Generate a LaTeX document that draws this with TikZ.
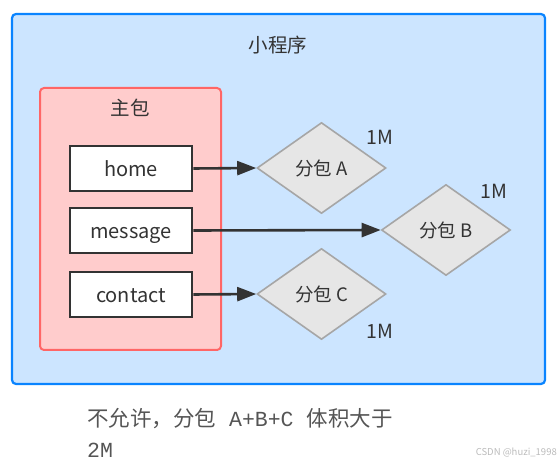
\documentclass[tikz,border=0pt]{standalone}
\usepackage{fontspec}
\setmainfont{Noto Sans CJK SC}
\newfontfamily\monofnt{Liberation Mono}
\newfontfamily\cjkfnt{Noto Sans CJK SC}
\usetikzlibrary{shapes.geometric,arrows.meta}
\definecolor{outerline}{HTML}{0A84FF}
\definecolor{outerfill}{HTML}{CCE5FF}
\definecolor{redline}{HTML}{FF6666}
\definecolor{redfill}{HTML}{FFCCCC}
\definecolor{darkline}{HTML}{333333}
\definecolor{diafill}{HTML}{E6E6E6}
\definecolor{dialine}{HTML}{A6A6A6}
\definecolor{txt}{HTML}{333333}
\definecolor{notetxt}{HTML}{555555}
\definecolor{wm}{HTML}{BBBBBB}
\tikzset{
  container/.style={draw=outerline, fill=outerfill, line width=2.2pt, rounded corners=4pt, inner sep=0pt},
  mainpkg/.style={draw=redline, fill=redfill, line width=2pt, rounded corners=4pt, inner sep=0pt},
  pagebox/.style={draw=darkline, fill=white, line width=2.8pt, minimum width=122pt, minimum height=45pt, inner sep=0pt, text height=16.5pt, text depth=1pt, text=txt, font=\fontsize{20}{22}\selectfont},
  subpkg/.style={diamond, draw=dialine, fill=diafill, line width=1.6pt, aspect=1.42, minimum width=129pt, minimum height=91pt, inner sep=0pt, text=txt, font=\fontsize{18.5}{22}\selectfont},
  lbl/.style={text=txt, font=\fontsize{19.5}{22}\selectfont, inner sep=0pt},
  conn/.style={draw=darkline, line width=2.6pt, -{Triangle[length=19pt,width=14pt]}}
}
\begin{document}
\begin{tikzpicture}[x=1pt,y=-1pt]
\useasboundingbox (0,0) rectangle (558,465);
\node[container, minimum width=533pt, minimum height=370pt] (app) at (278.5,199) {};
\node[lbl] (apptitle) at (278,45) {小程序};
\node[mainpkg, minimum width=181pt, minimum height=262pt] (main) at (130.5,219) {};
\node[lbl] (maintitle) at (130,108) {主包};
\node[pagebox] (home) at (131,168.5) {home};
\node[pagebox] (message) at (131,230.5) {message};
\node[pagebox] (contact) at (131,294.5) {contact};
\node[subpkg] (A) at (321.5,168) {分包 A};
\node[subpkg] (B) at (446,230) {分包 B};
\node[subpkg] (C) at (321.5,294) {分包 C};
\node[lbl] (szA) at (380,137) {1M};
\node[lbl] (szB) at (494,191) {1M};
\node[lbl] (szC) at (380,331) {1M};
\draw[conn] (home.east) -- (A.west);
\draw[conn] (message.east) -- (B.west);
\draw[conn] (contact.east) -- (C.west);
\node[anchor=west, inner sep=0pt, text=notetxt, font=\fontsize{21.5}{24}\selectfont] (note1) at (87,419) {不允许，分包{\monofnt\ A+B+C\ }体积大于};
\node[anchor=west, inner sep=0pt, text=notetxt, font=\fontsize{21.5}{24}\selectfont] (note2) at (87,450) {\monofnt 2M};
\node[anchor=east, inner sep=0pt, text=wm, font=\fontsize{9.5}{11}\selectfont] (wmark) at (557,453) {CSDN @huzi\_1998};
\end{tikzpicture}
\end{document}
